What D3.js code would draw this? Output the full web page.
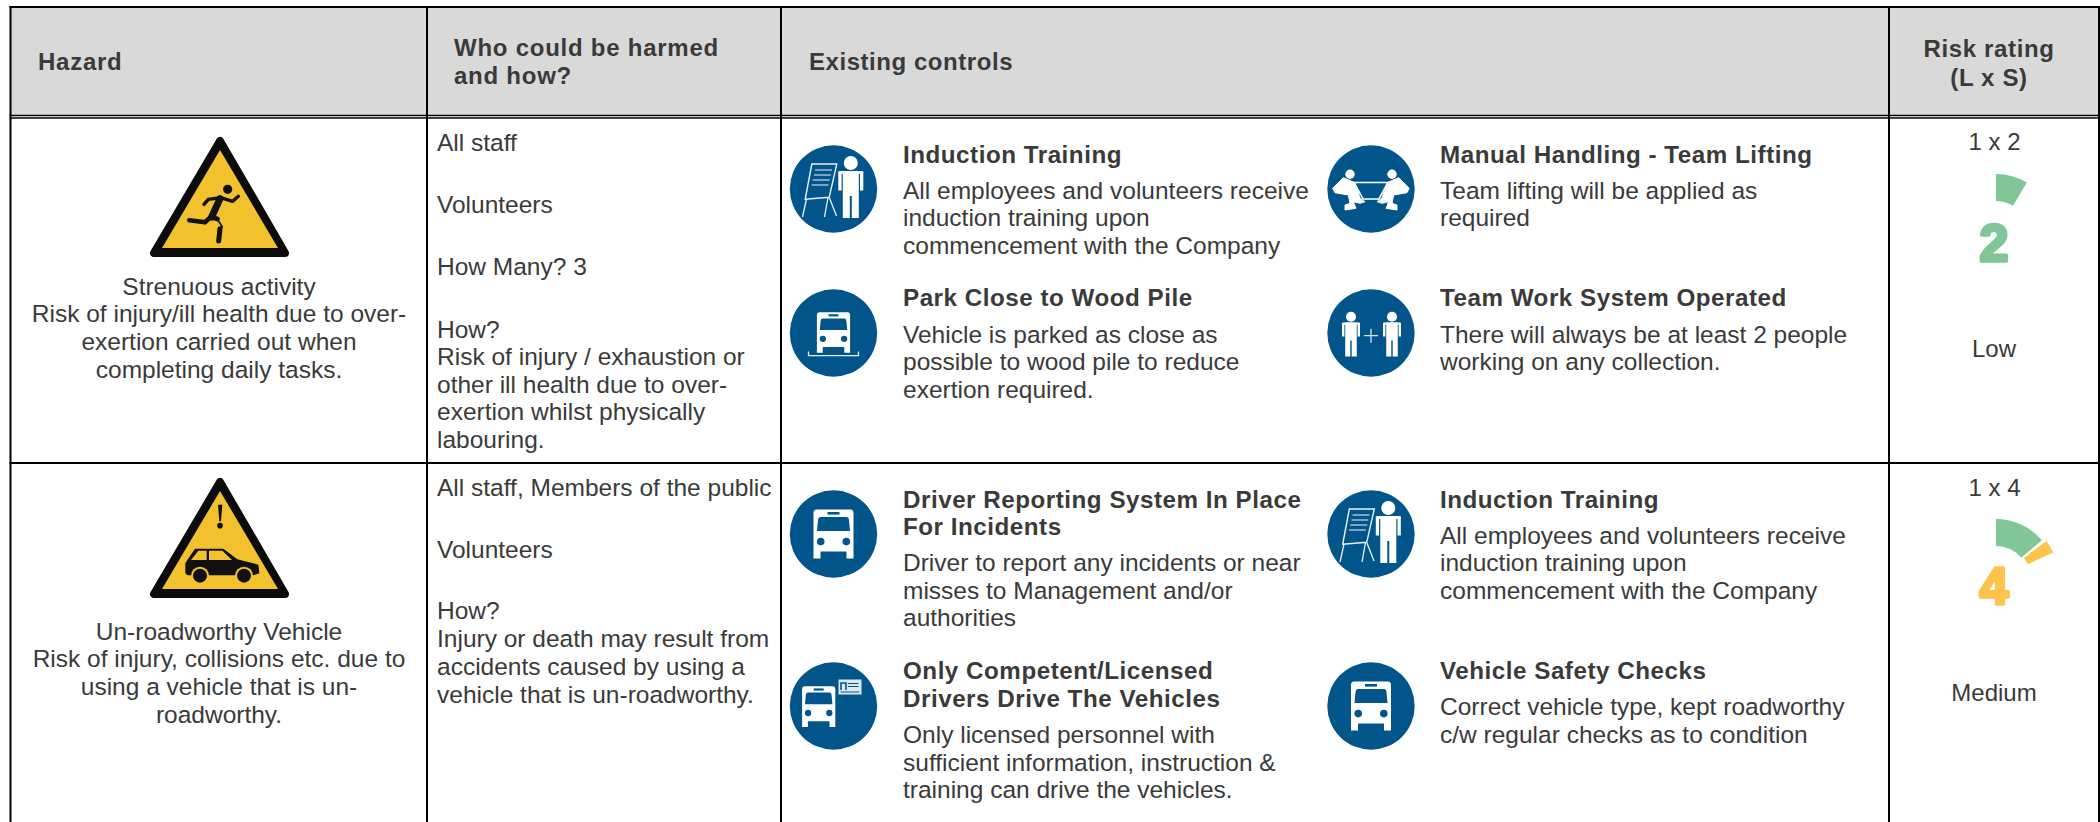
<!DOCTYPE html>
<html>
<head>
<meta charset="utf-8">
<script src="https://cdnjs.cloudflare.com/ajax/libs/d3/7.8.5/d3.min.js"></script>
<style>html,body{margin:0;padding:0;background:#fff;overflow:hidden}svg{display:block}</style>
</head>
<body>
<svg id="c" width="2100" height="822"></svg>
<script>
// ---------- data ----------
const headerLabels = [["Hazard"], ["Who could be harmed", "and how?"], ["Existing controls"], ["Risk rating", "(L x S)"]];
const hazardLines = [
  ["Strenuous activity", "Risk of injury/ill health due to over-", "exertion carried out when", "completing daily tasks."],
  ["Un-roadworthy Vehicle", "Risk of injury, collisions etc. due to", "using a vehicle that is un-", "roadworthy."]
];
const whoLines = [
  ["All staff", "Volunteers", "How Many? 3", "How?", "Risk of injury / exhaustion or", "other ill health due to over-", "exertion whilst physically", "labouring."],
  ["All staff, Members of the public", "Volunteers", "How?", "Injury or death may result from", "accidents caused by using a", "vehicle that is un-roadworthy."]
];
const controlTitles = [
  [["Induction Training"], ["Manual Handling - Team Lifting"], ["Park Close to Wood Pile"], ["Team Work System Operated"]],
  [["Driver Reporting System In Place", "For Incidents"], ["Induction Training"], ["Only Competent/Licensed", "Drivers Drive The Vehicles"], ["Vehicle Safety Checks"]]
];
const controlBodies = [
  [["All employees and volunteers receive", "induction training upon", "commencement with the Company"],
   ["Team lifting will be applied as", "required"],
   ["Vehicle is parked as close as", "possible to wood pile to reduce", "exertion required."],
   ["There will always be at least 2 people", "working on any collection."]],
  [["Driver to report any incidents or near", "misses to Management and/or", "authorities"],
   ["All employees and volunteers receive", "induction training upon", "commencement with the Company"],
   ["Only licensed personnel with", "sufficient information, instruction &", "training can drive the vehicles."],
   ["Correct vehicle type, kept roadworthy", "c/w regular checks as to condition"]]
];
const controlIcons = [["training", "lifting", "park", "team"], ["bus", "training", "licence", "bus"]];
const riskLabels = ["1 x 2", "1 x 4"];
const riskScores = [2, 4];
const riskLevels = ["Low", "Medium"];
const gaugeStarts = [[0], [0, 3.42]];
const gaugeEnds = [[2], [3.22, 4.2]];
const gaugeBands = [["low"], ["low", "medium"]];

// ---------- layout ----------
const colEdges = [10.5, 427, 781, 1889, 2099];
const headBaselines = [[70], [55.5, 84], [70], [56.5, 85.5]];
const headX = [38, 454, 809, 1989];
const headSpacing = [0.75, 0.75, 0.55, 0.65];
const hazardBaselines = [[294.5, 321.5, 349.5, 377.5], [639.5, 666.5, 695, 722.5]];
const whoBaselines = [[150.5, 212.5, 274.5, 337.5, 365, 392.5, 420, 448], [495.5, 557.5, 618.5, 647, 674.5, 703]];
const titleBaselines = [[[162.5], [162.5], [305.5], [305.5]], [[507.5, 534.5], [507.5], [678.5, 706.5], [678.5]]];
const bodyBaselines = [
  [[198.5, 226, 254], [198.5, 226], [342.5, 370, 398], [342.5, 370]],
  [[571, 598.5, 626], [543.5, 571, 598.5], [743, 770.5, 798], [715, 743]]
];
const iconY = [[189, 189, 333, 333], [534, 534, 706, 706]];
const iconX = [833.5, 1371, 833.5, 1371];
const textX = [903, 1440, 903, 1440];
const triTop = [0, 341];
const gaugeCy = [234, 579];
const ratingBase = [149.5, 495.5];
const scoreBase = [262, 605];
const levelBase = [356.5, 701];

const INK = "#3a3a3a", BLUE = "#01558b", SIGN = "#f2c12e";
const FONT = "'Liberation Sans', Arial, sans-serif";
const bandColor = d3.scaleOrdinal(["low", "medium"], ["#80c697", "#fcc44d"]);
const gaugeAngle = d3.scaleLinear([0, 4.2], [0, 65 * Math.PI / 180]);
const gaugeArc = d3.arc();

const svg = d3.select("#c");
svg.append("rect").attr("width", 2100).attr("height", 822).attr("fill", "#fff");
svg.append("rect").attr("x", colEdges[0]).attr("y", 7).attr("width", colEdges[4] - colEdges[0]).attr("height", 109).attr("fill", "#d9d9d9");

function txt(p, s, x, y, o) {
  o = o || {};
  return p.append("text").text(s).attr("x", x).attr("y", y)
    .attr("font-family", FONT).attr("font-size", o.size || 24.5).attr("fill", o.fill || INK)
    .attr("font-weight", o.bold ? 700 : 400).attr("letter-spacing", o.ls || 0)
    .attr("text-anchor", o.anchor || "start");
}

// header
headerLabels.forEach((lines, i) => lines.forEach((s, j) =>
  txt(svg, s, headX[i], headBaselines[i][j], {bold: true, size: 24, ls: headSpacing[i], anchor: i === 3 ? "middle" : "start"})));

// rows
hazardLines.forEach((lines, r) => lines.forEach((s, j) =>
  txt(svg, s, 219, hazardBaselines[r][j], {anchor: "middle"})));
whoLines.forEach((lines, r) => lines.forEach((s, j) =>
  txt(svg, s, 437, whoBaselines[r][j])));
controlTitles.forEach((row, r) => row.forEach((lines, c) => lines.forEach((s, j) =>
  txt(svg, s, textX[c], titleBaselines[r][c][j], {bold: true, size: 24.2, ls: 0.52}))));
controlBodies.forEach((row, r) => row.forEach((lines, c) => lines.forEach((s, j) =>
  txt(svg, s, textX[c], bodyBaselines[r][c][j]))));

// gauges
riskScores.forEach((v, r) => {
  const cx = 1996, g = svg.append("g").attr("transform", `translate(${cx},${gaugeCy[r]})`);
  g.selectAll("path").data(gaugeStarts[r]).join("path")
    .attr("fill", (d, i) => bandColor(gaugeBands[r][i]))
    .attr("d", (d, i) => gaugeArc({innerRadius: i ? 35 : 33, outerRadius: i ? 63 : 60,
      startAngle: gaugeAngle(d), endAngle: gaugeAngle(gaugeEnds[r][i])}));
  const col = bandColor(gaugeBands[r][gaugeBands[r].length - 1]);
  txt(svg, riskLabels[r], 1994.5, ratingBase[r], {anchor: "middle", size: 24});
  txt(svg, v, 1994, scoreBase[r] - 1.5, {anchor: "middle", size: 52, bold: true, fill: col})
    .attr("stroke", col).attr("stroke-width", 3.4).attr("stroke-linejoin", "round");
  txt(svg, riskLevels[r], 1994, levelBase[r], {anchor: "middle", size: 24});
});

// warning signs (local origin: apex of the sign at x=220,y=137)
function poly(g, pts, fill) { return g.append("polygon").attr("points", pts.map(p => p.join(",")).join(" ")).attr("fill", fill); }
function limb(g, pts, w) {
  g.append("path").attr("d", d3.line()(pts)).attr("fill", "none").attr("stroke", "#111")
    .attr("stroke-width", w).attr("stroke-linecap", "round").attr("stroke-linejoin", "round");
}
function sign(dy) {
  const g = svg.append("g").attr("transform", `translate(220,${137 + dy})`);
  poly(g, [[0, 4], [-66, 116], [65, 116]], "#0b0b0b").attr("stroke", "#0b0b0b").attr("stroke-width", 8).attr("stroke-linejoin", "round");
  poly(g, [[0, 13], [-58, 111], [58, 111]], SIGN);
  return g;
}
const runner = sign(triTop[0]);
const zr = (u, v) => [(u - 270) / 3, (v - 50) / 3];
runner.append("circle").attr("cx", zr(293, 0)[0]).attr("cy", zr(0, 207)[1]).attr("r", 4.6).attr("fill", "#111");
limb(runner, [zr(272, 232), zr(308, 243), zr(325, 228)], 3.4);
limb(runner, [zr(272, 232), zr(235, 237), zr(222, 252)], 3.4);
limb(runner, [zr(270, 235), zr(245, 290)], 7);
limb(runner, [zr(245, 288), zr(225, 306), zr(178, 300)], 4.6);
limb(runner, [zr(245, 290), zr(262, 296)], 5);
limb(runner, [zr(262, 296), zr(277, 320)], 1.6);
limb(runner, [zr(270, 325), zr(266, 362)], 5);

const car = sign(triTop[1]);
const zc = (u, v) => [(u - 270) / 3, (v - 40) / 3];
poly(car, [zc(264, 120), zc(277, 120), zc(273, 170), zc(268, 170)], "#111");
car.append("circle").attr("cx", 0).attr("cy", zc(0, 183)[1]).attr("r", 2.8).attr("fill", "#111");
poly(car, [zc(166, 295), zc(195, 252), zc(280, 252), zc(322, 284), zc(385, 300), zc(388, 326), zc(370, 332), zc(172, 332), zc(166, 325)], "#111");
poly(car, [zc(183, 286), zc(205, 258), zc(230, 258), zc(230, 286)], SIGN);
poly(car, [zc(237, 258), zc(277, 258), zc(306, 286), zc(237, 286)], SIGN);
[[210, 333], [342, 333]].forEach(w => {
  const c = zc(w[0], w[1]);
  car.append("circle").attr("cx", c[0]).attr("cy", c[1]).attr("r", 9).attr("fill", SIGN);
  car.append("circle").attr("cx", c[0]).attr("cy", c[1]).attr("r", 7).attr("fill", "#111");
});

// control icons
function person(g, x, y, k) {
  const p = g.append("g").attr("transform", `translate(${x},${y}) scale(${k})`).attr("fill", "#fff");
  p.append("circle").attr("cy", -26).attr("r", 7);
  p.append("path").attr("d", "M-8,-18H8V29H1V7H-1V29H-8Z");
  p.append("path").attr("d", "M-12.5,-17.5H-9.2V1.5H-12.5ZM9.2,-17.5H12.5V1.5H9.2Z");
  p.append("rect").attr("x", -12.5).attr("y", -18).attr("width", 25).attr("height", 3).attr("rx", 1.5);
}
function bus(g, x, y, k) {
  const b = g.append("g").attr("transform", `translate(${x},${y}) scale(${k})`);
  b.append("path").attr("fill", "#fff").attr("d", "M-17,-24.5H17Q20,-24.5 20,-21V24.5H13V17.5H-13V24.5H-20V-21Q-20,-24.5 -17,-24.5Z");
  b.append("rect").attr("x", -6).attr("y", -22).attr("width", 12).attr("height", 2.6).attr("fill", BLUE);
  b.append("path").attr("fill", BLUE).attr("d", "M-13,-17H13Q15,-17 15.5,-14L16.5,-3H-16.5L-15.5,-14Q-15,-17 -13,-17Z");
  [-12.8, 12.8].forEach(c => b.append("circle").attr("cx", c).attr("cy", 7.6).attr("r", 3.8).attr("fill", BLUE));
}
const iconDraw = {
  training(g) {
    person(g, 17.3, 0, 1);
    g.append("polygon").attr("points", "-21.7,-25 3.3,-25 -4.3,8.3 -28.3,10.3").attr("fill", "none").attr("stroke", "#eaf1f6").attr("stroke-width", 1.4);
    [[-18.5, -1.5, -19], [-19.5, -2.6, -14], [-20.8, -3.8, -9], [-22, -5, -4]].forEach(l =>
      g.append("line").attr("x1", l[0]).attr("x2", l[1]).attr("y1", l[2]).attr("y2", l[2]).attr("stroke", "#b9d0df").attr("stroke-width", 1.3));
    [[-27, 10, -31, 28], [-5.5, 8.5, -9, 28], [-4, 9, 3, 27]].forEach(l =>
      g.append("line").attr("x1", l[0]).attr("y1", l[1]).attr("x2", l[2]).attr("y2", l[3]).attr("stroke", "#eaf1f6").attr("stroke-width", 1.3));
  },
  lifting(g) {
    [1, -1].forEach(m => {
      const s = g.append("g").attr("transform", `scale(${m},1)`).attr("fill", "#fff");
      s.append("circle").attr("cx", -21).attr("cy", -14.7).attr("r", 4.7);
      s.append("path").attr("stroke", "#fff").attr("stroke-width", 1).attr("stroke-linejoin", "round")
        .attr("d", "M-27.7,-11.3L-16,-6.3L-11,9.3L-6,12.7L-11,14.3L-17.7,12.7L-15,19.3L-26,21L-26,16L-21,14.3L-22.7,6L-36,3.7L-38.3,-0.7Z");
    });
    g.append("path").attr("d", "M-17,-6.5H17L8,10H-8Z").attr("fill", "none").attr("stroke", "#fff").attr("stroke-width", 1.6);
  },
  park(g) {
    bus(g, 0, -0.5, 0.83);
    g.append("path").attr("d", "M-25,18.5V22.7H25V18.5").attr("fill", "none").attr("stroke", "#e6eef4").attr("stroke-width", 1.3);
  },
  team(g) {
    person(g, -20, 2.5, 0.72); person(g, 21, 2.5, 0.72);
    g.append("path").attr("d", "M-7,2.7H7M0,-4.3V9.7").attr("stroke", "#d5e3ec").attr("stroke-width", 1.3);
  },
  bus(g) { bus(g, 0, 0, 1); },
  licence(g) {
    bus(g, -14.8, 0.7, 0.83);
    g.append("rect").attr("x", 5).attr("y", -26.5).attr("width", 23).attr("height", 15).attr("fill", "#dce8f0");
    g.append("path").attr("d", "M7.5,-16V-23H12.5V-16").attr("fill", "none").attr("stroke", BLUE).attr("stroke-width", 1.6);
    g.append("path").attr("d", "M14.5,-22.5H25M14.5,-19.5H25M7,-14H26").attr("stroke", BLUE).attr("stroke-width", 1);
  }
};
controlIcons.forEach((row, r) => row.forEach((name, c) => {
  const g = svg.append("g").attr("transform", `translate(${iconX[c]},${iconY[r][c]})`);
  g.append("circle").attr("r", 43.7).attr("fill", BLUE);
  iconDraw[name](g);
}));

// table rules
const rule = (x1, y1, x2, y2, w) => svg.append("line").attr("x1", x1).attr("y1", y1).attr("x2", x2).attr("y2", y2)
  .attr("stroke", "#000").attr("stroke-width", w);
colEdges.forEach(x => rule(x, 6, x, 822, 2));
rule(9.5, 7, 2100, 7, 2);
rule(9.5, 115.5, 2100, 115.5, 1.4);
rule(9.5, 118, 2100, 118, 1.4);
rule(9.5, 463, 2100, 463, 2);
</script>
</body>
</html>
